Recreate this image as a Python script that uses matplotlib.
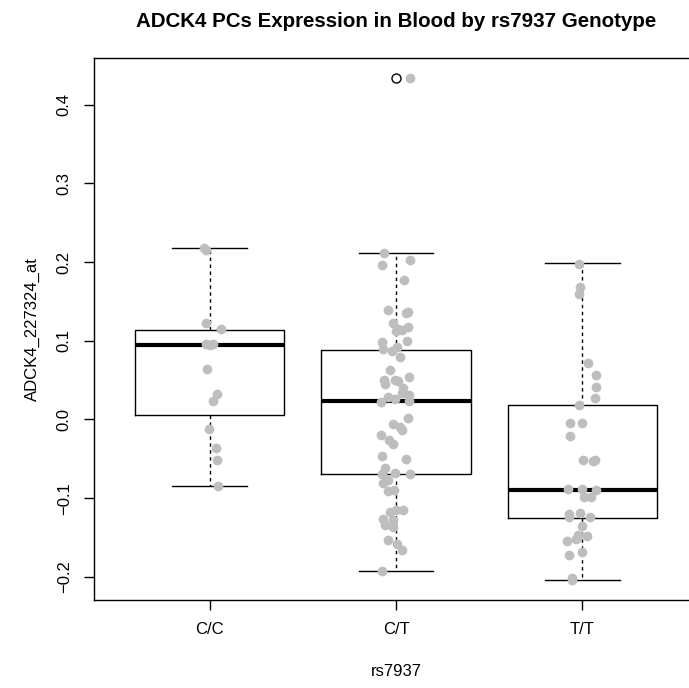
import numpy as np
import matplotlib
matplotlib.use("Agg")
import matplotlib.pyplot as plt

plt.rcParams['font.family'] = ['Liberation Sans', 'DejaVu Sans']

genotypes = ['C/C', 'C/T', 'T/T']

# expression values for each genotype, with the horizontal jitter of each point
cc_vals = [0.218, 0.216, 0.1225, 0.1144, 0.0962, 0.0946, 0.0962, 0.064, 0.0323,
           0.0238, -0.0127, -0.0369, -0.0521, -0.085]
cc_jit = [-0.029, -0.019, -0.019, 0.062, -0.019, 0.003, 0.017, -0.015, 0.042,
          0.020, -0.004, 0.036, 0.042, 0.046]

ct_vals = [0.434, 0.2115, 0.203, 0.1958, 0.1767, 0.1386, 0.135, 0.136, 0.1225, 0.1175,
           0.115, 0.112, 0.114, 0.100, 0.098, 0.089, 0.087, 0.092, 0.0789, 0.0632,
           0.0505, 0.045, 0.0505, 0.049, 0.0534, 0.040, 0.0336, 0.031, 0.029, 0.022,
           0.026, 0.0238, 0.0018, -0.006, -0.009, -0.013, -0.020, -0.026, -0.031,
           -0.046, -0.050, -0.062, -0.069, -0.068, -0.069, -0.0767, -0.081, -0.0915,
           -0.0894, -0.115, -0.115, -0.118, -0.127, -0.134, -0.1275, -0.137, -0.153,
           -0.158, -0.166, -0.193]
ct_jit = [0.075, -0.063, 0.075, -0.075, 0.043, -0.041, 0.054, 0.063, -0.018, 0.063,
          0.012, 0.0, 0.031, 0.061, -0.075, -0.071, -0.023, 0.004, 0.021, -0.032,
          -0.063, -0.059, -0.005, 0.012, 0.071, 0.036, 0.031, 0.070, -0.044, -0.082,
          -0.005, 0.071, 0.066, -0.014, 0.021, 0.031, -0.080, -0.036, -0.014,
          -0.077, 0.052, -0.059, -0.077, -0.005, 0.075, -0.041, -0.071, -0.041,
          -0.011, 0.0, 0.039, -0.032, -0.071, -0.059, -0.014, -0.014, -0.041,
          0.007, 0.031, -0.073]

tt_vals = [0.198, 0.169, 0.160, 0.0717, 0.056, 0.041, 0.027, 0.0178, -0.005, -0.005,
           -0.0207, -0.051, -0.0534, -0.052, -0.089, -0.089, -0.090, -0.098, -0.0987,
           -0.120, -0.124, -0.119, -0.1246, -0.135, -0.1465, -0.148, -0.152, -0.155,
           -0.172, -0.168, -0.2016, -0.204]
tt_jit = [-0.021, -0.011, -0.021, 0.031, 0.071, 0.071, 0.068, -0.016, -0.064, 0.0,
          -0.064, 0.002, 0.055, 0.068, -0.079, -0.002, 0.073, 0.011, 0.047,
          -0.070, -0.073, -0.012, 0.043, -0.002, -0.025, 0.023, -0.034, -0.082,
          -0.073, -0.002, -0.057, -0.054]

# boxplot summary: whiskers, hinges, median, outliers
box_lo = [-0.085, -0.193, -0.204]
box_q1 = [0.006, -0.069, -0.1254]
box_med = [0.095, 0.0229, -0.0894]
box_q3 = [0.114, 0.0886, 0.0178]
box_hi = [0.218, 0.2115, 0.199]
box_out = [[], [0.434], []]

fig = plt.figure(figsize=(6.89, 6.88), dpi=100)
ax = fig.add_axes([94 / 689, 88 / 688, 604 / 689, 542 / 688])

stats = []
for i in range(3):
    stats.append({'whislo': box_lo[i], 'q1': box_q1[i], 'med': box_med[i],
                  'q3': box_q3[i], 'whishi': box_hi[i], 'fliers': box_out[i]})

ax.bxp(stats, positions=[1, 2, 3], widths=0.8, capwidths=0.4,
       boxprops=dict(color='black', lw=1),
       medianprops=dict(color='black', lw=3, solid_capstyle='butt'),
       whiskerprops=dict(color='black', lw=1, linestyle=(0, (2.5, 2.5))),
       capprops=dict(color='black', lw=1),
       flierprops=dict(marker='o', markerfacecolor='none', markeredgecolor='black',
                       markersize=6.5, markeredgewidth=1))

groups = [(cc_vals, cc_jit), (ct_vals, ct_jit), (tt_vals, tt_jit)]
for i, (vals, jit) in enumerate(groups):
    xs = i + 1 + np.array(jit)
    ax.plot(xs, vals, 'o', color='#bebebe', markersize=7, markeredgewidth=0, zorder=4)

ax.set_xlim(0.38, 3.62)
ax.set_ylim(-0.2295, 0.4595)

yt = np.arange(-0.2, 0.41, 0.1)
ax.set_yticks(yt)
ax.set_yticklabels([('%.1f' % v).replace('-', '\u2212') for v in yt],
                   rotation=90, va='center')
ax.set_xticks([1, 2, 3])
ax.set_xticklabels(genotypes)
ax.tick_params(axis='both', length=7, width=1, labelsize=12, direction='out')
ax.tick_params(axis='x', pad=9)
ax.tick_params(axis='y', pad=9)
for s in ax.spines.values():
    s.set_linewidth(1)

ax.set_xlabel('rs7937', fontsize=12, labelpad=19)
ax.set_ylabel('ADCK4_227324_at', fontsize=12, labelpad=12)
ax.set_title('ADCK4 PCs Expression in Blood by rs7937 Genotype',
             fontsize=14.8, fontweight='bold', pad=22)

fig.savefig('out.png', dpi=100)
